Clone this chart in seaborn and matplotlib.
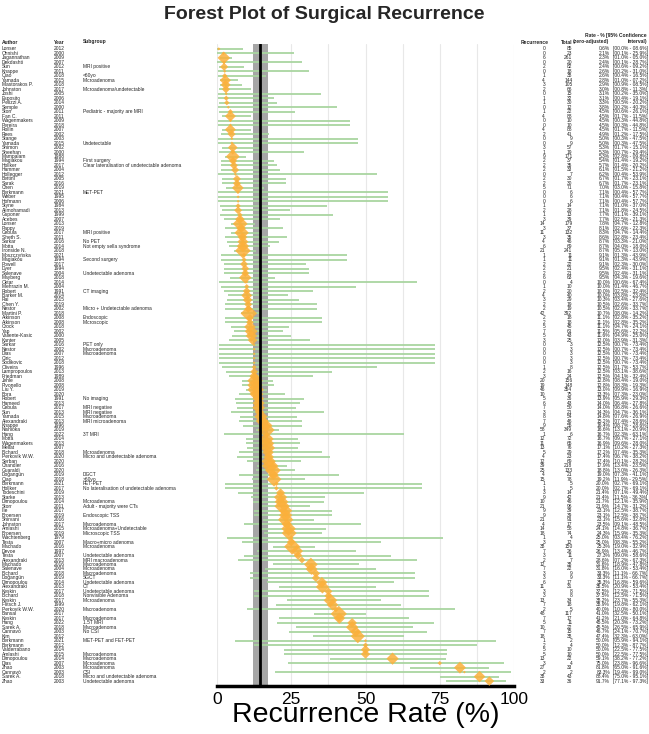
import numpy as np
import pandas as pd
import matplotlib
matplotlib.use('Agg')
import matplotlib.pyplot as plt
import matplotlib.transforms as mtransforms
import seaborn as sns

# study table (sorted by recurrence rate, as in the figure)
authors = ['Lonser', 'Ohnishi', 'Jagannathan', 'Dekdashti', 'Sun', 'Knappe', 'Qiao', 'Yamada', 'Mastorakos P.', 'Johnston',
           'Joshi', 'Esposito', 'Pelizzi A.', 'Semple', 'Storr', 'Fan C.', 'Wagenmakers', 'Pereira', 'Rollin', 'Rees',
           'Stange', 'Yamada', 'Shimon', 'Sheehan', 'Mampalam', 'Magiakou', 'Hollker', 'Hammer', 'Hollegger', 'Bettini',
           'Sarak', 'Chen', 'Berkmann', 'Weber', 'Hofmann', 'Styne', 'Alimohamadi', 'Gsponer', 'Acebes', 'Lonser',
           'Pappy', 'Cebula', 'Sheth S.', 'Sarkar', 'Motta', 'Ironside N.', 'Moszczyńska', 'Magiakou', 'Powell', 'Dyer',
           'Salenave', 'Mayberg', 'Oktar', 'Mehrazin M.', 'Robert', 'Barker M.', 'Rai', 'Chen Y.', 'Nestor', 'Martini P.',
           'Atkinson', 'Atkinson', 'Crock', 'Yap', 'Valiente-Kasic', 'Kanter', 'Sarkar', 'Nestor', 'Dias', 'Ciric',
           'Sodikovic', 'Oliveira', 'Lampropoulos', 'Friedman', 'Jehle', 'Pivonello', 'Liu Y.', 'Bora', 'Robert', 'Hameed',
           'Cebula', 'Sun', 'Yamada', 'Alexandraki', 'Knappe', 'Nishioka', 'Hang', 'Motta', 'Wagenmakers', 'Mellat',
           'Bichard', 'Perkovik W.W.', 'Serban', 'Chandler', 'Guaraldi', 'Doğangün', 'Qiao', 'Berkmann', 'Hollker', 'Todeschini',
           'Starke', 'Dimopoulou', 'Storr', 'Ilie', 'Broersen', 'Shirvani', 'Johnston', 'Amlashi', 'Broersen', 'Wachtenberg',
           'Testa', 'Machado', 'Devoe', 'Testa', 'Alexandraki', 'Machado', 'Salenave', 'Bichard', 'Doğangün', 'Dimopoulou',
           'Alexandraki', 'Keskin', 'Bichard', 'Keskin', 'Flitsch J.', 'Perkovik W.W.', 'Bansal', 'Keskin', 'Hang', 'Sarek A.',
           'Cannavò', 'Kim', 'Berkmann', 'Berkmann', 'Valderrabano', 'Amlashi', 'Dimopoulou', 'Dias', 'Zhao', 'Cannavò',
           'Sarek A.', 'Zhao']
years = [2012, 2000, 2009, 2007, 2012, 2011, 2018, 2015, 2018, 2017,
         2005, 2006, 2014, 2000, 2011, 2011, 2009, 2018, 2007, 2002,
         2003, 2015, 2002, 2000, 1988, 1994, 2017, 2004, 2012, 2005,
         2016, 2019, 2021, 1995, 2006, 1984, 2013, 1999, 2007, 2013,
         2019, 2017, 2011, 2016, 2014, 2018, 2021, 1994, 2017, 1994,
         2004, 2018, 2014, 2004, 1991, 2014, 2015, 2019, 2002, 2018,
         2008, 2008, 2018, 2002, 2000, 2005, 2016, 2002, 2007, 2012,
         2018, 1996, 2013, 1989, 2008, 2008, 2019, 2020, 1991, 2013,
         2017, 2013, 2015, 2013, 1996, 2019, 2022, 2014, 2013, 2007,
         2018, 2020, 2020, 2016, 2020, 2019, 2018, 2021, 2017, 2019,
         2013, 2014, 2011, 2017, 2019, 2016, 2017, 2015, 2019, 1979,
         2007, 2016, 1997, 2007, 2013, 2016, 2004, 2018, 2019, 2014,
         2013, 2017, 2018, 2017, 1999, 2020, 2017, 2017, 2022, 2018,
         2003, 2012, 2021, 2012, 2014, 2015, 2014, 2007, 2003, 2003,
         2018, 2003]
subgroups = ['', '', '', '', 'MRI positive', '', '<60yo', 'Microadenoma', '', 'Microadenoma/undetectable',
             '', '', '', '', 'Pediatric - majority are MRI', '', '', '', '', '',
             '', 'Undetectable', '', '', '', 'First surgery', 'Clear lateralisation of undetectable adenoma', '', '', '',
             '', '', 'MET-PET', '', '', '', '', '', '', '',
             '', 'MRI positive', '', 'No PET', 'Not empty sella syndrome', '', '', 'Second surgery', '', '',
             'Undetectable adenoma', '', '', '', 'CT imaging', '', '', '', 'Micro + Undetectable adenoma', '',
             'Endoscopic', 'Microscopic', '', '', '', '', 'PET only', 'Macroadenoma', 'Macroadenoma', '',
             '', '', '', '', '', '', '', '', 'No imaging', '',
             'MRI negative', 'MRI negative', 'Macroadenoma', 'MRI microadenoma', '', '', '3T MRI', '', '', '',
             'Microadenoma', 'Micro and undetectable adenoma', '', '', '', 'DGCT', '>60yo', 'FET-PET',
             'No lateralisation of undetectable adenoma', '',
             '', 'Microadenoma', 'Adult - majority were CTs', '', 'Endoscopic TSS', '', 'Macroadenoma',
             'Microadenoma+Undetectable', 'Microscopic TSS', '',
             'Macro+micro adenoma', 'Microadenoma', '', 'Undetectable adenoma', 'MRI macroadenoma', 'Macroadenoma',
             'Microadenoma', 'Macroadenoma', 'SGCT', 'Undetectable adenoma',
             'CT', 'Undetectable adenoma', 'Nonvisible Adenoma', 'Microadenoma', '', 'Macroadenoma', '', 'Macroadenoma',
             '1.5T MRI', 'Macroadenoma',
             'No CSI', '', 'MET-PET and FET-PET', '', '', 'Macroadenoma', 'Macroadenoma', 'Microadenoma', 'Microadenoma', 'CSI',
             'Micro and undetectable adenoma', 'Undetectable adenoma']
recurrence = [0, 0, 6, 0, 2, 0, 1, 4, 3, 2,
              0, 1, 1, 0, 1, 4, 0, 0, 4, 2,
              0, 0, 3, 1, 9, 2, 2, 2, 0, 2,
              2, 5, 0, 0, 0, 1, 2, 1, 3, 14,
              3, 11, 3, 4, 6, 21, 1, 1, 2, 2,
              2, 6, 0, 1, 2, 4, 3, 2, 2, 42,
              2, 2, 5, 7, 5, 3, 0, 0, 0, 0,
              0, 1, 2, 3, 20, 19, 46, 10, 5, 6,
              7, 3, 8, 7, 9, 58, 1, 12, 11, 13,
              5, 4, 12, 39, 25, 4, 15, 1, 1, 3,
              9, 10, 21, 9, 9, 21, 4, 14, 18, 1,
              3, 38, 7, 3, 2, 12, 7, 3, 3, 6,
              11, 3, 3, 13, 7, 2, 48, 7, 5, 10,
              7, 18, 1, 2, 5, 5, 13, 3, 27, 2,
              38, 33]
totals = [85, 23, 261, 20, 82, 18, 38, 144, 105, 66,
          15, 32, 30, 12, 22, 88, 10, 10, 88, 41,
          9, 9, 57, 19, 171, 37, 35, 33, 7, 30,
          30, 71, 6, 6, 6, 14, 28, 13, 39, 179,
          37, 132, 35, 46, 69, 241, 11, 11, 22, 21,
          21, 63, 4, 10, 20, 40, 29, 19, 19, 392,
          18, 18, 45, 61, 43, 25, 3, 3, 3, 3,
          3, 8, 16, 24, 156, 148, 354, 75, 36, 43,
          50, 21, 54, 46, 55, 349, 6, 72, 65, 76,
          29, 23, 69, 218, 133, 21, 78, 5, 5, 14,
          42, 46, 96, 39, 39, 91, 17, 58, 74, 4,
          12, 150, 26, 11, 7, 38, 22, 9, 9, 17,
          31, 8, 8, 34, 18, 5, 117, 17, 11, 22,
          15, 38, 2, 4, 10, 10, 22, 4, 33, 2,
          43, 36]
rates = [0.6, 2.1, 2.3, 2.4, 2.4, 2.6, 2.6, 2.8, 2.9, 3.0,
         3.1, 3.1, 3.3, 3.8, 4.5, 4.5, 4.5, 4.5, 4.5, 4.9,
         5.0, 5.0, 5.3, 5.3, 5.3, 5.4, 5.7, 6.1, 6.2, 6.7,
         6.7, 7.0, 7.1, 7.1, 7.1, 7.1, 7.1, 7.7, 7.7, 7.8,
         8.1, 8.3, 8.6, 8.7, 8.7, 8.7, 9.1, 9.1, 9.1, 9.5,
         9.5, 9.5, 10.0, 10.0, 10.0, 10.0, 10.3, 10.5, 10.5, 10.7,
         11.1, 11.1, 11.1, 11.5, 11.6, 12.0, 12.5, 12.5, 12.5, 12.5,
         12.5, 12.5, 12.5, 12.5, 12.8, 12.8, 13.0, 13.3, 13.9, 14.0,
         14.0, 14.3, 14.8, 15.2, 16.4, 16.6, 16.7, 16.7, 16.9, 17.1,
         17.2, 17.4, 17.4, 17.9, 18.8, 19.0, 19.2, 20.0, 20.0, 21.4,
         21.4, 21.7, 21.9, 23.1, 23.1, 23.1, 23.5, 24.1, 24.3, 25.0,
         25.0, 25.3, 26.9, 27.3, 28.6, 31.6, 31.8, 33.3, 33.3, 35.3,
         35.5, 37.5, 37.5, 38.2, 38.9, 40.0, 41.0, 41.2, 45.5, 45.5,
         46.7, 47.4, 50.0, 50.0, 50.0, 50.0, 59.1, 75.0, 81.8, 83.3,
         88.4, 91.7]
ci_low = [0.0, 0.1, 1.0, 0.1, 0.6, 0.2, 0.4, 1.0, 0.9, 0.8,
          0.2, 0.4, 0.5, 0.2, 0.6, 1.7, 0.3, 0.3, 1.7, 1.2,
          0.3, 0.3, 1.7, 0.7, 2.8, 1.4, 1.4, 1.5, 0.4, 1.7,
          1.7, 3.0, 0.4, 0.4, 0.4, 1.0, 1.8, 1.1, 2.5, 4.7,
          2.6, 4.7, 2.8, 3.3, 4.0, 5.7, 1.3, 1.3, 2.3, 2.4,
          2.4, 4.3, 0.6, 1.4, 2.5, 3.8, 3.4, 2.6, 2.6, 8.0,
          2.8, 2.8, 4.7, 5.6, 4.9, 3.9, 0.7, 0.7, 0.7, 0.7,
          0.7, 1.7, 3.1, 4.1, 8.4, 8.3, 9.9, 7.3, 5.9, 6.4,
          6.8, 4.7, 7.6, 7.4, 8.7, 13.1, 2.3, 9.7, 9.6, 10.2,
          7.4, 6.7, 10.1, 13.4, 13.0, 7.3, 11.9, 2.7, 2.7, 7.1,
          11.5, 12.1, 14.7, 12.5, 12.5, 15.6, 9.1, 14.8, 15.9, 3.4,
          8.3, 19.0, 13.4, 9.0, 7.2, 18.9, 16.0, 11.1, 11.1, 16.8,
          20.9, 12.5, 12.5, 23.7, 19.8, 10.0, 32.5, 21.0, 20.3, 26.5,
          24.1, 32.3, 5.9, 12.3, 22.5, 22.5, 38.2, 23.8, 65.0, 19.4,
          75.0, 77.1]
ci_high = [8.6, 25.9, 5.0, 28.7, 9.2, 31.0, 16.5, 7.2, 8.5, 11.3,
           35.0, 19.1, 20.2, 40.3, 26.1, 11.5, 44.8, 44.8, 11.5, 17.5,
           47.5, 47.5, 15.1, 29.4, 9.8, 19.2, 20.2, 21.2, 53.9, 23.1,
           23.1, 15.8, 57.7, 57.7, 57.7, 37.0, 24.5, 39.1, 21.3, 12.8,
           22.3, 14.4, 23.4, 21.0, 18.0, 13.0, 43.9, 43.9, 30.0, 31.1,
           31.1, 19.6, 67.4, 46.7, 32.4, 23.8, 27.6, 33.7, 33.7, 14.2,
           35.2, 35.2, 24.1, 22.2, 25.0, 31.3, 73.4, 73.4, 73.4, 73.4,
           73.4, 53.7, 38.6, 32.4, 19.0, 19.3, 16.9, 23.0, 29.3, 27.8,
           26.6, 36.1, 26.9, 28.6, 28.6, 20.9, 63.1, 27.1, 28.0, 27.3,
           35.3, 38.2, 28.2, 23.5, 26.3, 41.1, 29.5, 69.1, 69.1, 49.4,
           36.3, 35.9, 31.2, 38.7, 38.7, 32.8, 48.5, 36.7, 35.3, 76.2,
           55.2, 32.9, 46.7, 58.6, 67.3, 47.8, 53.4, 66.7, 66.7, 59.6,
           53.4, 71.5, 71.5, 55.3, 62.1, 80.0, 50.1, 64.8, 73.2, 65.9,
           70.7, 63.0, 94.1, 87.7, 77.5, 77.5, 77.2, 96.6, 91.6, 99.0,
           95.1, 97.3]

# pooled estimate and its interval (grey band)
pooled_rate = 14.4
pooled_low = 12.1
pooled_high = 17.0

df = pd.DataFrame({'author': authors, 'year': years, 'subgroup': subgroups,
                   'recurrence': recurrence, 'total': totals,
                   'rate': rates, 'lo': ci_low, 'hi': ci_high})
df['row'] = np.arange(len(df))

# diamond size ~ study weight (logit variance + between-study variance)
adj = ((df['recurrence'] == 0) | (df['recurrence'] == df['total'])) * 0.5
var = 1 / (df['recurrence'] + adj) + 1 / (df['total'] - df['recurrence'] + adj)
df['w'] = 1 / (var + 0.45)
df['area'] = df['w'] ** 2

sns.set_theme(style='white')
plt.rcParams['font.family'] = ['Liberation Sans', 'DejaVu Sans']

fig = plt.figure(figsize=(6.49, 7.34), dpi=100)
ax = fig.add_axes([0.3344, 0.0654, 0.4576, 0.8747])

ax.axvspan(pooled_low, pooled_high, color='#a6a6a6', zorder=1, lw=0)
ax.hlines(df['row'], df['lo'], df['hi'], color='#a9d5a0', lw=1.3, zorder=2)
sns.scatterplot(data=df, x='rate', y='row', size='area', sizes=(0, 72),
                size_norm=(0, df['area'].max()), marker='D', color='#fbb03b',
                alpha=0.85, linewidth=0, legend=False, ax=ax, zorder=3)
ax.axvline(pooled_rate, color='black', lw=2, zorder=4)

ax.set_xlim(0, 100)
ax.set_ylim(len(df) - 1 + 1.1, -1.1)
ax.set_yticks([])
ax.set_xticks([0, 25, 50, 75, 100])
ax.set_xticks(np.arange(0, 101, 12.5), minor=True)
ax.grid(axis='x', which='both', color='#e8e8e8', lw=0.8, zorder=0)
ax.set_axisbelow(True)
for s in ['left', 'right', 'top']:
    ax.spines[s].set_visible(False)
ax.spines['bottom'].set_linewidth(2.5)
ax.spines['bottom'].set_color('black')
ax.tick_params(axis='x', which='major', length=2, width=1.5, labelsize=12.5, pad=2, colors='black')
ax.tick_params(axis='x', which='minor', length=0)
ax.set_xlabel('Recurrence Rate (%)', fontsize=20.5, labelpad=-3, color='black')
ax.set_ylabel('')

fig.text(0.5, 0.980, 'Forest Plot of Surgical Recurrence', ha='center', va='center',
         fontsize=14, fontweight='bold')

# table text left and right of the plot
trans = mtransforms.blended_transform_factory(fig.transFigure, ax.transData)
fs = 3.5
for r in df.itertuples():
    kw = dict(transform=trans, fontsize=fs, va='center', clip_on=False)
    ax.text(0.003, r.row, r.author, ha='left', **kw)
    ax.text(0.083, r.row, str(r.year), ha='left', **kw)
    ax.text(0.128, r.row, r.subgroup, ha='left', **kw)
    ax.text(0.840, r.row, str(r.recurrence), ha='right', **kw)
    ax.text(0.882, r.row, str(r.total), ha='right', **kw)
    ax.text(0.940, r.row, f'{r.rate:.1f}%', ha='right', **kw)
    ax.text(0.944, r.row, f'[{r.lo:04.1f}% - {r.hi:04.1f}%]', ha='left', **kw)

hfs = 3.6
y1 = 1 - 35 / 734
y2 = 1 - 42 / 734
hkw = dict(fontsize=hfs, va='center', fontweight='bold')
fig.text(0.997, y1, 'Rate - % [95% Confidence', ha='right', **hkw)
fig.text(0.003, y2, 'Author', ha='left', **hkw)
fig.text(0.083, y2, 'Year', ha='left', **hkw)
fig.text(0.128, y2, 'Subgroup', ha='left', **hkw)
fig.text(0.845, y2, 'Recurrence', ha='right', **hkw)
fig.text(0.882, y2, 'Total', ha='right', **hkw)
fig.text(0.938, y2, '(zero-adjusted)', ha='right', **hkw)
fig.text(0.997, y2, 'Interval)', ha='right', **hkw)

fig.savefig('out.png', dpi=100)
